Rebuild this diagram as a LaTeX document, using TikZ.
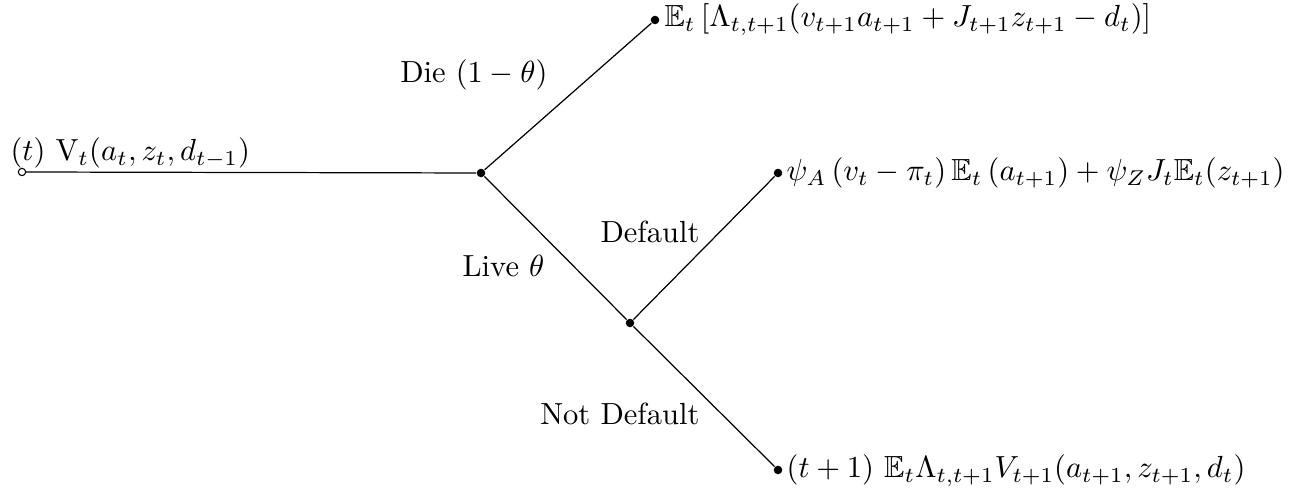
\documentclass[tikz,border=0pt]{standalone}
\usepackage{amsmath,amssymb}
\begin{document}
\begin{tikzpicture}[x=0.0115cm,y=-0.0115cm,
  dotn/.style={circle,fill=black,inner sep=0pt,minimum size=2.8pt},
  opendot/.style={circle,draw=black,fill=white,inner sep=0pt,minimum size=2.4pt,line width=0.35pt},
  branch/.style={line width=0.4pt},
  lbl/.style={inner sep=0pt,font=\normalsize}]
\useasboundingbox (0,0) rectangle (1305,497);
\node[opendot] (s) at (22,172) {};
\node[dotn] (a) at (481,173) {};
\node[dotn] (top) at (655,20) {};
\node[dotn] (b) at (630,323) {};
\node[dotn] (mid) at (778,173) {};
\node[dotn] (bot) at (778,470) {};
\draw[branch] (s) -- (a);
\draw[branch] (a) -- (top);
\draw[branch] (a) -- (b);
\draw[branch] (b) -- (mid);
\draw[branch] (b) -- (bot);
\node[lbl,anchor=base west] (ls) at (10,161) {$(t)$ $\mathrm{V}_t(a_t,z_t,d_{t-1})$};
\node[lbl,anchor=base west] (ltop) at (664,27) {$\mathbb{E}_t\left[\Lambda_{t,t+1}(v_{t+1}a_{t+1}+J_{t+1}z_{t+1}-d_t)\right]$};
\node[lbl,anchor=base west] (lmid) at (786,181) {$\psi_A\left(v_t-\pi_t\right)\mathbb{E}_t\left(a_{t+1}\right)+\psi_Z J_t\mathbb{E}_t(z_{t+1})$};
\node[lbl,anchor=base west] (lbot) at (786,478) {$(t+1)\ \mathbb{E}_t\Lambda_{t,t+1}V_{t+1}(a_{t+1},z_{t+1},d_t)$};
\node[lbl,anchor=base east] (ldie) at (548,83) {Die $(1-\theta)$};
\node[lbl,anchor=base east] (llive) at (545,277) {Live $\theta$};
\node[lbl,anchor=base east] (ldef) at (700,243) {Default};
\node[lbl,anchor=base east] (lnd) at (700,425) {Not Default};
\end{tikzpicture}
\end{document}
